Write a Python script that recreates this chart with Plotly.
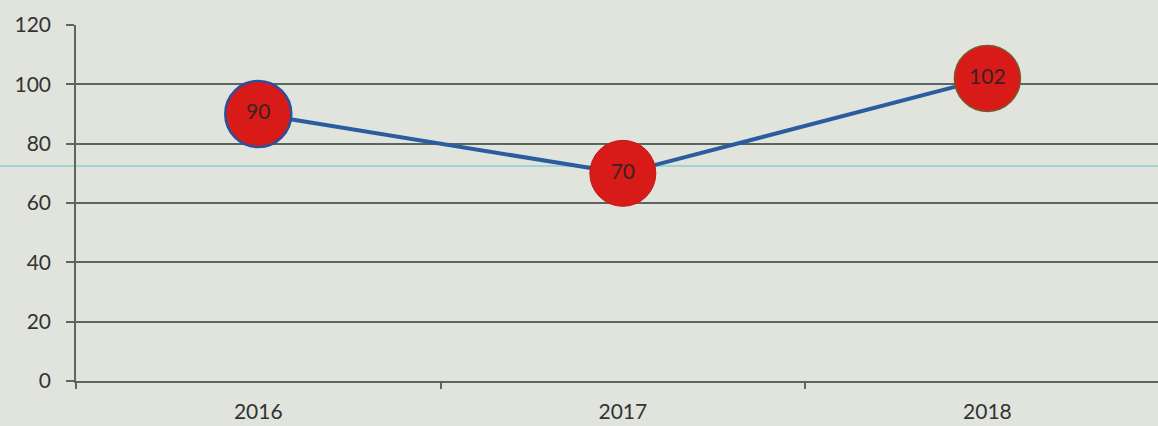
import plotly.graph_objects as go

# データ
years = ["2016", "2017", "2018"]
values = [90, 70, 102]
marker_outlines = ["#2b4f9a", "#c41a18", "#7a5a2a"]
y_ticks = [0, 20, 40, 60, 80, 100, 120]

bg = "#e0e4dd"
grid = "#5a665e"
label_font = {"size": 21, "color": "#333333", "family": "Lato"}

fig = go.Figure()

fig.add_trace(
    go.Scatter(
        x=years,
        y=values,
        mode="lines+markers+text",
        line={"color": "#2a5c9e", "width": 4},
        marker={
            "size": 66,
            "color": "#d81a18",
            "line": {"color": marker_outlines, "width": [2.5, 1, 1.5]},
            "opacity": 1,
        },
        text=[str(v) for v in values],
        textposition="middle center",
        textfont={"size": 21, "color": "#3a2222", "family": "Lato"},
        cliponaxis=False,
        showlegend=False,
    )
)

# スキャン由来の薄いシアンの線
fig.add_shape(
    type="line",
    xref="paper",
    yref="y",
    x0=-0.1,
    x1=1.1,
    y0=72.5,
    y1=72.5,
    line={"color": "#8fcfd0", "width": 1.5},
    layer="below",
)

fig.update_xaxes(
    type="category",
    range=[-0.5, 2.468],
    showgrid=False,
    showline=True,
    linecolor=grid,
    linewidth=1.5,
    ticks="outside",
    tickson="boundaries",
    ticklen=6,
    tickcolor=grid,
    tickwidth=1.5,
    ticklabelstandoff=11,
    tickfont=label_font,
)

fig.update_yaxes(
    range=[0, 120],
    tickvals=y_ticks,
    showgrid=True,
    gridcolor=grid,
    gridwidth=1.5,
    zeroline=False,
    showline=True,
    linecolor=grid,
    linewidth=1.5,
    ticks="outside",
    ticklen=8,
    tickcolor=grid,
    tickwidth=1.5,
    ticklabelstandoff=11,
    tickfont=label_font,
)

fig.update_layout(
    width=1158,
    height=426,
    margin={"l": 76, "r": 0, "t": 25, "b": 45},
    plot_bgcolor=bg,
    paper_bgcolor=bg,
)

fig.write_html(
    "out.html",
    config={"displayModeBar": False},
    post_script="document.body.style.margin='0';",
)
